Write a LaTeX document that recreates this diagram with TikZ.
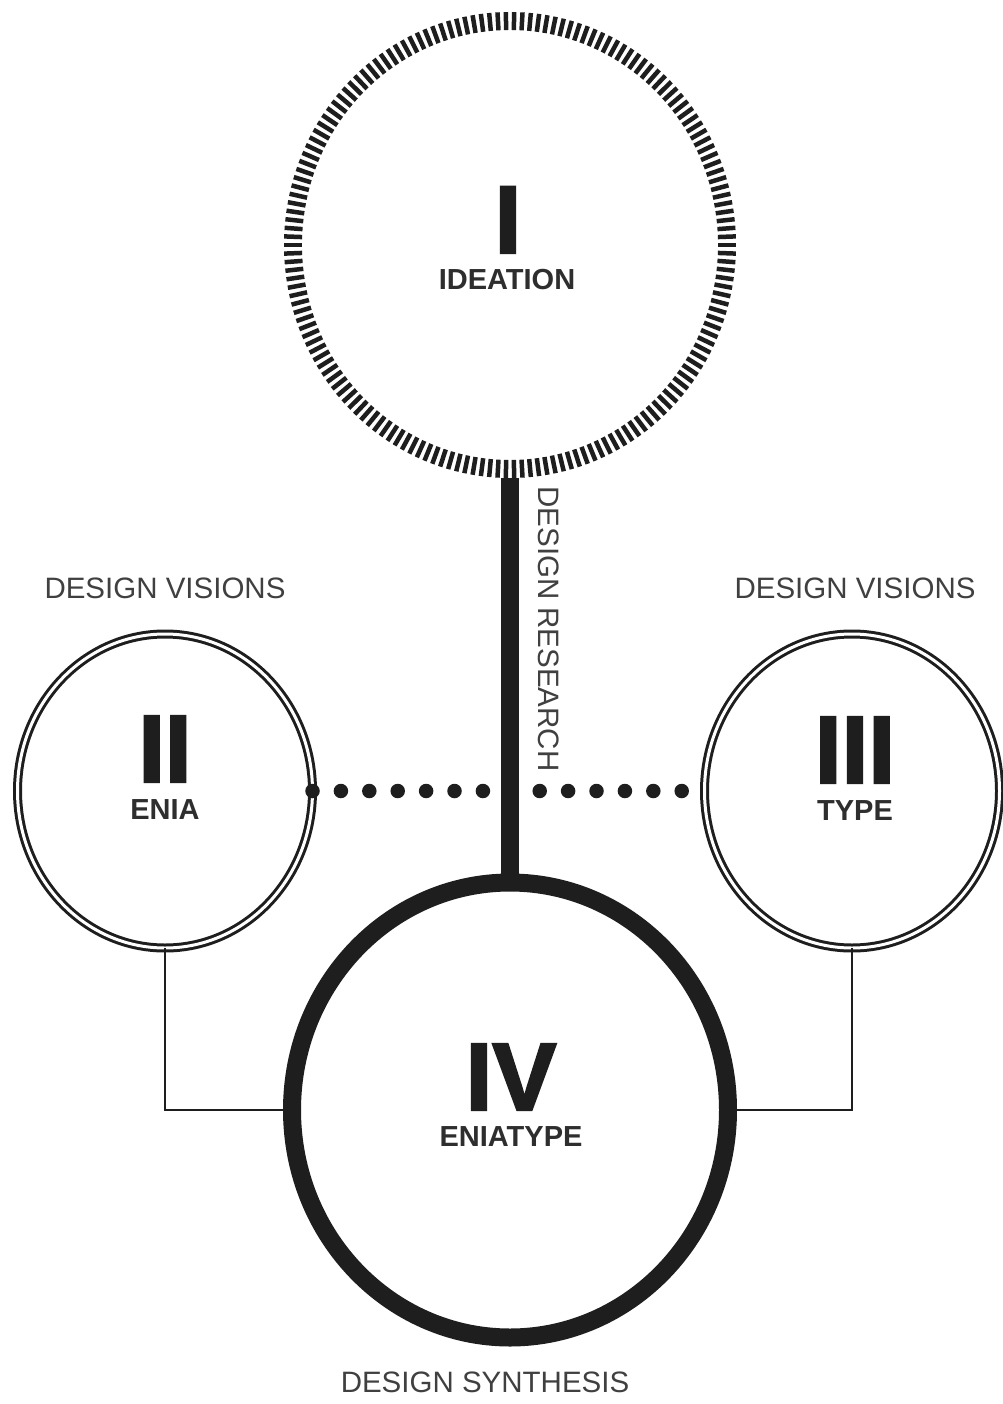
\documentclass[tikz,border=0pt]{standalone}
\usepackage{fontspec}
\setmainfont{Liberation Sans}
\newfontfamily\numfont[FakeBold=2.5]{Liberation Sans Bold}
\usetikzlibrary{shapes.geometric,calc}
\definecolor{ink}{HTML}{1E1E1E}
\definecolor{txt}{HTML}{2E2E2E}
\definecolor{lighttxt}{HTML}{404040}
\begin{document}
\begin{tikzpicture}[x=1pt,y=-1pt,
  ringnode/.style={ellipse, inner sep=0pt, outer sep=0pt},
  doublering/.style={ringnode, draw=ink, line width=3pt, double=white, double distance=3pt},
  thickring/.style={ringnode, draw=ink, line width=18pt},
  tickline/.style={draw=ink, line width=4.5pt},
  numeral/.style={font=\fontsize{96}{96}\numfont, text=ink, inner sep=0pt, anchor=base},
  title/.style={font=\fontsize{29}{29}\selectfont\bfseries, text=txt, inner sep=0pt, anchor=base},
  caption/.style={font=\fontsize{29.5}{30}\selectfont, text=lighttxt, inner sep=0pt},
  thinlink/.style={draw=ink, line width=2.5pt},
  thicklink/.style={draw=ink, line width=18pt},
  dotlink/.style={draw=ink, line width=14.5pt, line cap=round, dash pattern=on 0pt off 28.4pt}
]
\useasboundingbox[fill=white] (0,0) rectangle (1002,1404);

% circles (nodes)
\node[ringnode, minimum width=452pt, minimum height=466pt] (I) at (510,245) {};
\node[doublering, minimum width=295pt, minimum height=314pt] (II) at (165,791) {};
\node[doublering, minimum width=295pt, minimum height=314pt] (III) at (852,791) {};
\node[thickring, minimum width=436pt, minimum height=455pt] (IV) at (510,1110) {};

% connectors
\draw[dotlink] (II.east) -- (III.west);
\draw[thicklink] (I.south) -- (IV.north);
\draw[thinlink] (II.south) -- (II.south |- IV.west) -- (IV.west);
\draw[thinlink] (III.south) -- (III.south |- IV.east) -- (IV.east);

% hatched ring of circle I
\foreach \k in {0,...,169} {
  \pgfmathsetmacro{\ang}{\k*2.1176471}
  \pgfmathsetmacro{\ca}{cos(\ang)}
  \pgfmathsetmacro{\sa}{sin(\ang)}
  \draw[tickline] ($(I.center)+({208*\ca},{215*\sa})$) -- ($(I.center)+({226*\ca},{233*\sa})$);
}

% numerals and titles
\node[numeral] (nI) at (508,253) {I};
\node[title] (tI) at (507,290) {IDEATION};
\node[numeral] (nII) at (165,782) {II};
\node[title] (tII) at (165,819) {ENIA};
\node[numeral] (nIII) at (855,783) {III};
\node[title] (tIII) at (855,820) {TYPE};
\node[numeral] (nIV) at (511,1110) {IV};
\node[title] (tIV) at (511,1146) {ENIATYPE};

% captions
\node[caption, anchor=base] (cvl) at (165,598) {DESIGN VISIONS};
\node[caption, anchor=base] (cvr) at (855,598) {DESIGN VISIONS};
\node[caption, rotate=-90, anchor=center] (cres) at (549,629) {DESIGN RESEARCH};
\node[caption, anchor=base] (csyn) at (485,1392) {DESIGN SYNTHESIS};
\end{tikzpicture}
\end{document}
